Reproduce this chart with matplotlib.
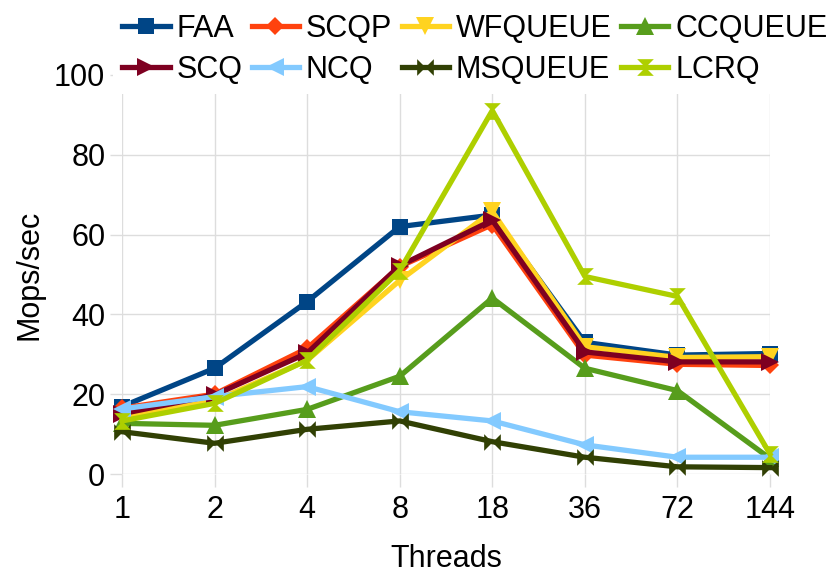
import matplotlib.pyplot as plt
import numpy as np
from matplotlib.path import Path

plt.rcParams['font.family'] = ['Liberation Sans', 'DejaVu Sans']

threads = ["1", "2", "4", "8", "18", "36", "72", "144"]

faa = [16.9, 26.5, 43.2, 62.0, 64.9, 33.0, 29.8, 30.2]
scqp = [16.5, 20.0, 31.5, 52.0, 62.5, 29.8, 27.5, 27.2]
wfqueue = [14.2, 18.3, 28.5, 48.5, 65.8, 31.9, 29.2, 29.4]
ccqueue = [12.7, 12.2, 16.2, 24.5, 44.1, 26.5, 20.9, 3.9]
scq = [15.1, 19.8, 30.3, 52.2, 63.6, 30.6, 28.1, 28.1]
ncq = [16.3, 19.4, 21.9, 15.6, 13.3, 7.3, 4.2, 4.2]
msqueue = [10.6, 7.7, 11.2, 13.3, 8.1, 4.2, 1.8, 1.6]
lcrq = [13.3, 17.7, 28.5, 51.0, 91.1, 49.5, 44.5, 5.0]

# bowtie / hourglass markers
bowtie = Path([(-1, 1), (1, -1), (1, 1), (-1, -1), (-1, 1)],
              [Path.MOVETO, Path.LINETO, Path.LINETO, Path.LINETO, Path.CLOSEPOLY])
hourglass = Path([(-1, 1), (1, 1), (-1, -1), (1, -1), (-1, 1)],
                 [Path.MOVETO, Path.LINETO, Path.LINETO, Path.LINETO, Path.CLOSEPOLY])

series = [
    ("FAA", faa, "#004586", "s", 12),
    ("SCQP", scqp, "#ff420e", "D", 9),
    ("WFQUEUE", wfqueue, "#ffd320", "v", 13),
    ("CCQUEUE", ccqueue, "#579d1c", "^", 13),
    ("SCQ", scq, "#7e0021", ">", 13),
    ("NCQ", ncq, "#83caff", "<", 13),
    ("MSQUEUE", msqueue, "#314004", bowtie, 12),
    ("LCRQ", lcrq, "#aecf00", hourglass, 12),
]

fig = plt.figure(figsize=(8.31, 5.75), dpi=100)
ax = fig.add_axes([122 / 831, 101 / 575, 648 / 831, 399 / 575])

x = np.arange(len(threads))
lines = {}
for name, vals, col, mk, ms in series:
    ln, = ax.plot(x, vals, color=col, marker=mk, markersize=ms, linewidth=3.8,
                  markeredgewidth=0, label=name, clip_on=False)
    lines[name] = ln

ax.set_xlim(0, 7)
ax.set_ylim(0, 100)
ax.set_xticks(x)
ax.set_xticklabels(threads)
ax.set_yticks(np.arange(0, 101, 20))
ax.grid(True, color="#dddddd", linewidth=1)
ax.set_axisbelow(True)
for s in ax.spines.values():
    s.set_visible(False)
ax.tick_params(axis="both", labelsize=22, color="#dddddd", length=9, width=1)
ax.tick_params(axis="y", pad=3)
ax.tick_params(axis="x", pad=6)
ax.set_xlabel("Threads", fontsize=22, labelpad=14)
ax.set_ylabel("Mops/sec", fontsize=22, labelpad=7)

order = ["FAA", "SCQ", "SCQP", "NCQ", "WFQUEUE", "MSQUEUE", "CCQUEUE", "LCRQ"]
leg = fig.legend([lines[n] for n in order], order, ncol=4, loc="lower left",
                 bbox_to_anchor=(113 / 831, (575 - 94) / 575), fontsize=22,
                 frameon=True, facecolor="white", edgecolor="none", framealpha=1,
                 handlelength=1.55, handletextpad=0.22, columnspacing=0.31,
                 labelspacing=0.36, borderpad=0.3, borderaxespad=0)

fig.savefig("out.png", dpi=100)
